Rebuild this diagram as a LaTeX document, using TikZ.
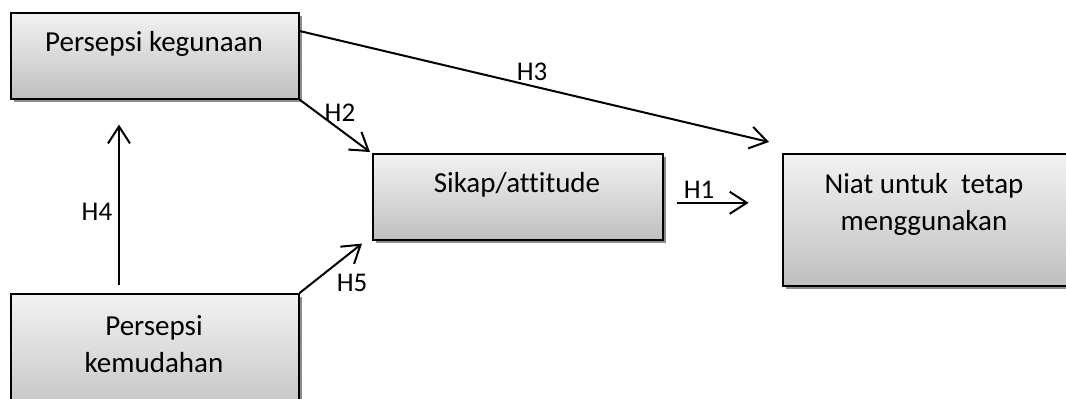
\documentclass[tikz,border=0pt]{standalone}
\usepackage{fontspec}
\setmainfont{Carlito}[Ligatures=NoCommon]
\usetikzlibrary{arrows.meta,calc,shadows}
\begin{document}
\begin{tikzpicture}[x=1pt,y=-1pt,
  box/.style={draw=black, line width=1.6pt, inner sep=0pt, anchor=north west,
    top color=black!5, bottom color=black!25,
    drop shadow={shadow xshift=3pt, shadow yshift=-3pt, fill=black!45, opacity=1}},
  txt/.style={inner sep=0pt, font=\fontsize{29}{37}\selectfont, align=center},
  lbl/.style={inner sep=0pt, font=\fontsize{27}{32}\selectfont},
  conn/.style={line width=2pt, -{Straight Barb[length=17pt,width=22pt,line width=2pt]}}
]
\useasboundingbox (0,0) rectangle (1066,399);
\clip (0,0) rectangle (1066,399);
\node[box, minimum width=288pt, minimum height=86pt] (A) at (10,12) {};
\node[box, minimum width=290pt, minimum height=86pt] (S) at (372,153) {};
\node[box, minimum width=300pt, minimum height=132pt] (N) at (782,153) {};
\node[box, minimum width=288pt, minimum height=130pt] (P) at (10,293) {};
\node[txt] (tA) at (154,44) {Persepsi kegunaan};
\node[txt] (tS) at (517,185) {Sikap/attitude};
\node[txt] (tN) at (924,204) {Niat untuk \ tetap\\menggunakan};
\node[txt] (tP) at (154,344) {Persepsi\\kemudahan};
\draw[conn] ($(A.north east)+(0,19)$) coordinate (a3) -- ($(N.north west)+(-13,-11)$) coordinate (h3);
\draw[conn] (A.south east) -- ($(S.north west)+(-2,-1)$) coordinate (h2);
\draw[conn] (P.north east) -- ($(S.south west)+(-10,3)$) coordinate (h5);
\draw[conn] ($(P.north west)+(109,-8)$) coordinate (a4) -- ($(A.south west)+(109,25)$) coordinate (h4);
\draw[conn] ($(S.east)+(13,6)$) coordinate (a1) -- ($(S.east)+(85,6)$) coordinate (h1);
\node[lbl] (L3) at (532,72) {H3};
\node[lbl] (L2) at (340,113) {H2};
\node[lbl] (L5) at (352,283) {H5};
\node[lbl] (L4) at (97,212) {H4};
\node[lbl] (L1) at (699,190) {H1};
\end{tikzpicture}
\end{document}
